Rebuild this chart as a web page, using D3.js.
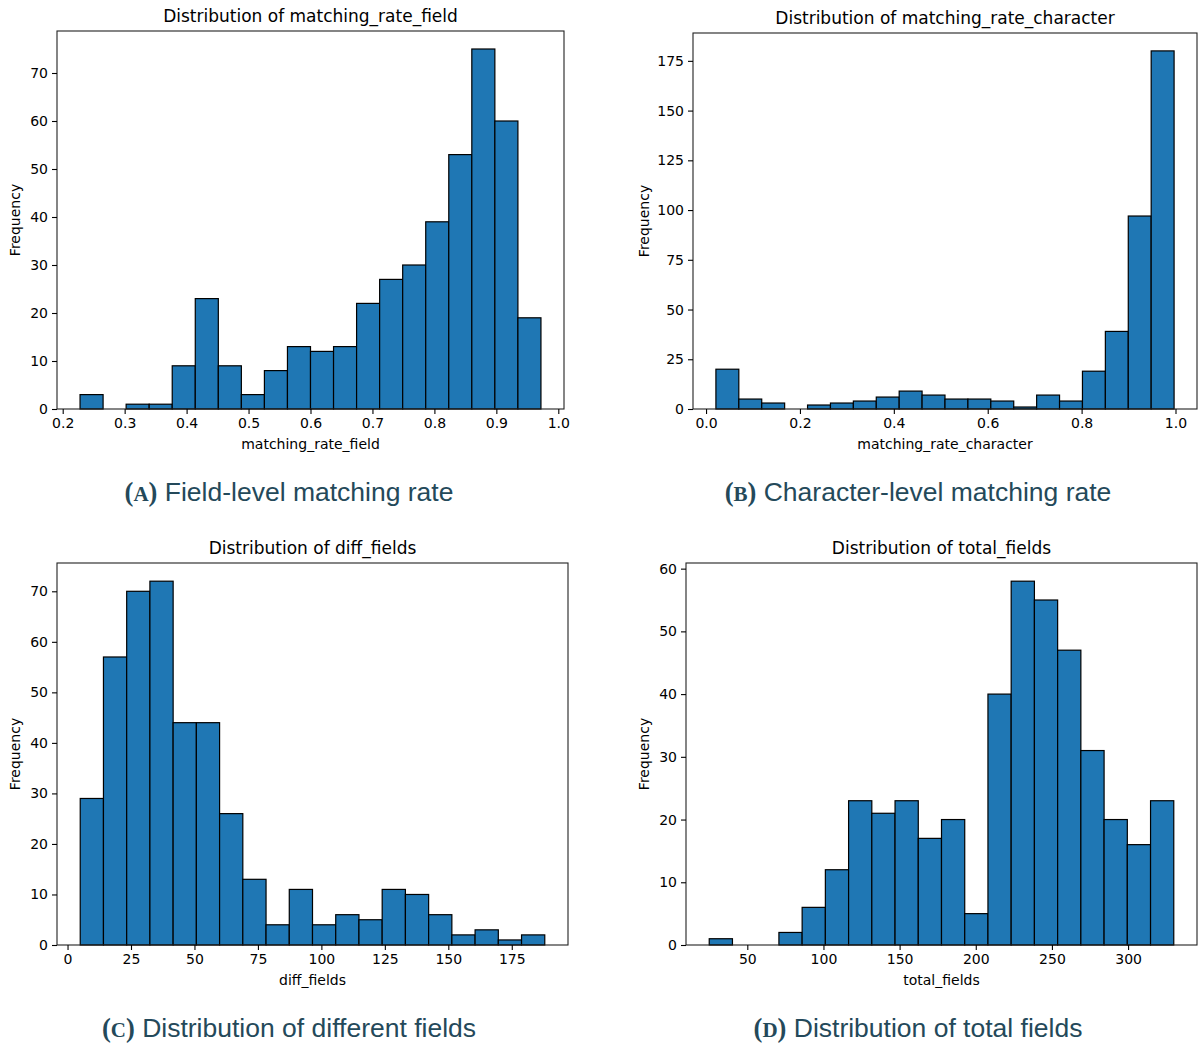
<!DOCTYPE html>
<html><head><meta charset="utf-8">
<script src="https://cdn.jsdelivr.net/npm/d3@7"></script>
<style>body{margin:0;background:#fff}svg{display:block}</style>
</head><body>
<svg id="c" width="1200" height="1046"></svg>
<script>
// ---- Data ----
const rateFieldStart = 0.228, rateFieldEnd = 0.972;
const rateFieldCounts = [3,0,1,1,9,23,9,3,8,13,12,13,22,27,30,39,53,75,60,19];
const rateFieldXTicks = [0.2,0.3,0.4,0.5,0.6,0.7,0.8,0.9,1.0];
const rateFieldYTicks = [0,10,20,30,40,50,60,70];

const rateCharStart = 0.021, rateCharEnd = 0.997;
const rateCharCounts = [20,5,3,0,2,3,4,6,9,7,5,5,4,1,7,4,19,39,97,180];
const rateCharXTicks = [0.0,0.2,0.4,0.6,0.8,1.0];
const rateCharYTicks = [0,25,50,75,100,125,150,175];

const diffStart = 5, diffEnd = 188;
const diffCounts = [29,57,70,72,44,44,26,13,4,11,4,6,5,11,10,6,2,3,1,2];
const diffXTicks = [0,25,50,75,100,125,150,175];
const diffYTicks = [0,10,20,30,40,50,60,70];

const totalStart = 25, totalEnd = 330;
const totalCounts = [1,0,0,2,6,12,23,21,23,17,20,5,40,58,55,47,31,20,16,23];
const totalXTicks = [50,100,150,200,250,300];
const totalYTicks = [0,10,20,30,40,50,60];

const titles = ["Distribution of matching_rate_field","Distribution of matching_rate_character","Distribution of diff_fields","Distribution of total_fields"];
const xLabels = ["matching_rate_field","matching_rate_character","diff_fields","total_fields"];
const captionLetters = ["A","B","C","D"];
const captionTexts = ["Field-level matching rate","Character-level matching rate","Distribution of different fields","Distribution of total fields"];

// ---- Layout ----
const panels = [
  {start:rateFieldStart,end:rateFieldEnd,counts:rateFieldCounts,xt:rateFieldXTicks,yt:rateFieldYTicks,fmt:d3.format(".1f"),
   box:{l:57,r:564,t:31,b:409}, cap:{x:289,y:501}, ylx:15},
  {start:rateCharStart,end:rateCharEnd,counts:rateCharCounts,xt:rateCharXTicks,yt:rateCharYTicks,fmt:d3.format(".1f"),
   box:{l:693,r:1197,t:33,b:409}, cap:{x:918,y:501}, ylx:644},
  {start:diffStart,end:diffEnd,counts:diffCounts,xt:diffXTicks,yt:diffYTicks,fmt:d3.format("d"),
   box:{l:57,r:568,t:563,b:945}, cap:{x:289,y:1037}, ylx:15},
  {start:totalStart,end:totalEnd,counts:totalCounts,xt:totalXTicks,yt:totalYTicks,fmt:d3.format("d"),
   box:{l:686,r:1197,t:563,b:945}, cap:{x:918,y:1037}, ylx:644}
];

const svg = d3.select("#c");
const FONT = "DejaVu Sans, sans-serif";

panels.forEach((p,i)=>{
  const n = p.counts.length;
  const w = (p.end - p.start)/n;
  const bins = p.counts.map((c,k)=>({x0:p.start+k*w, x1:p.start+(k+1)*w, c}));
  const pad = (p.end-p.start)*0.05;
  const x = d3.scaleLinear().domain([p.start-pad, p.end+pad]).range([p.box.l, p.box.r]);
  const ymax = d3.max(p.counts)*1.05;
  const y = d3.scaleLinear().domain([0, ymax]).range([p.box.b, p.box.t]);
  const g = svg.append("g");

  g.selectAll("rect.bar").data(bins).enter().append("rect")
    .attr("class","bar")
    .attr("x", d=>x(d.x0)).attr("width", d=>x(d.x1)-x(d.x0))
    .attr("y", d=>y(d.c)).attr("height", d=>y(0)-y(d.c))
    .attr("fill","#1f77b4").attr("stroke","#000").attr("stroke-width",1.2);

  // frame
  g.append("rect").attr("x",p.box.l).attr("y",p.box.t)
    .attr("width",p.box.r-p.box.l).attr("height",p.box.b-p.box.t)
    .attr("fill","none").attr("stroke","#222").attr("stroke-width",1.1);

  const xa = g.append("g").attr("transform",`translate(0,${p.box.b})`)
    .call(d3.axisBottom(x).tickValues(p.xt).tickFormat(p.fmt).tickSizeOuter(0).tickSize(5).tickPadding(4));
  const ya = g.append("g").attr("transform",`translate(${p.box.l},0)`)
    .call(d3.axisLeft(y).tickValues(p.yt).tickFormat(d3.format("d")).tickSizeOuter(0).tickSize(5).tickPadding(4));
  [xa,ya].forEach(a=>{
    a.select(".domain").remove();
    a.selectAll("text").attr("font-family",FONT).attr("font-size",14).attr("fill","#000");
    a.selectAll("line").attr("stroke","#000").attr("stroke-width",1.1);
  });

  g.append("text").attr("x",(p.box.l+p.box.r)/2).attr("y",p.box.t-9)
    .attr("text-anchor","middle").attr("font-family",FONT).attr("font-size",17).text(titles[i]);
  g.append("text").attr("x",(p.box.l+p.box.r)/2).attr("y",p.box.b+40)
    .attr("text-anchor","middle").attr("font-family",FONT).attr("font-size",14).text(xLabels[i]);
  g.append("text").attr("transform",`translate(${p.ylx+5},${(p.box.t+p.box.b)/2}) rotate(-90)`)
    .attr("text-anchor","middle").attr("font-family",FONT).attr("font-size",14).text("Frequency");

  const cap = svg.append("text").attr("x",p.cap.x).attr("y",p.cap.y).attr("text-anchor","middle")
    .attr("fill","#24495a").attr("font-size",26.5).attr("font-family","Liberation Sans, Arial, sans-serif");
  cap.append("tspan").attr("font-family","Liberation Serif, serif").attr("font-weight","bold").text("(");
  cap.append("tspan").attr("font-family","Liberation Serif, serif").attr("font-weight","bold").attr("font-size",21).text(captionLetters[i]);
  cap.append("tspan").attr("font-family","Liberation Serif, serif").attr("font-weight","bold").text(")");
  cap.append("tspan").text(" " + captionTexts[i]);
});
</script>
</body></html>
